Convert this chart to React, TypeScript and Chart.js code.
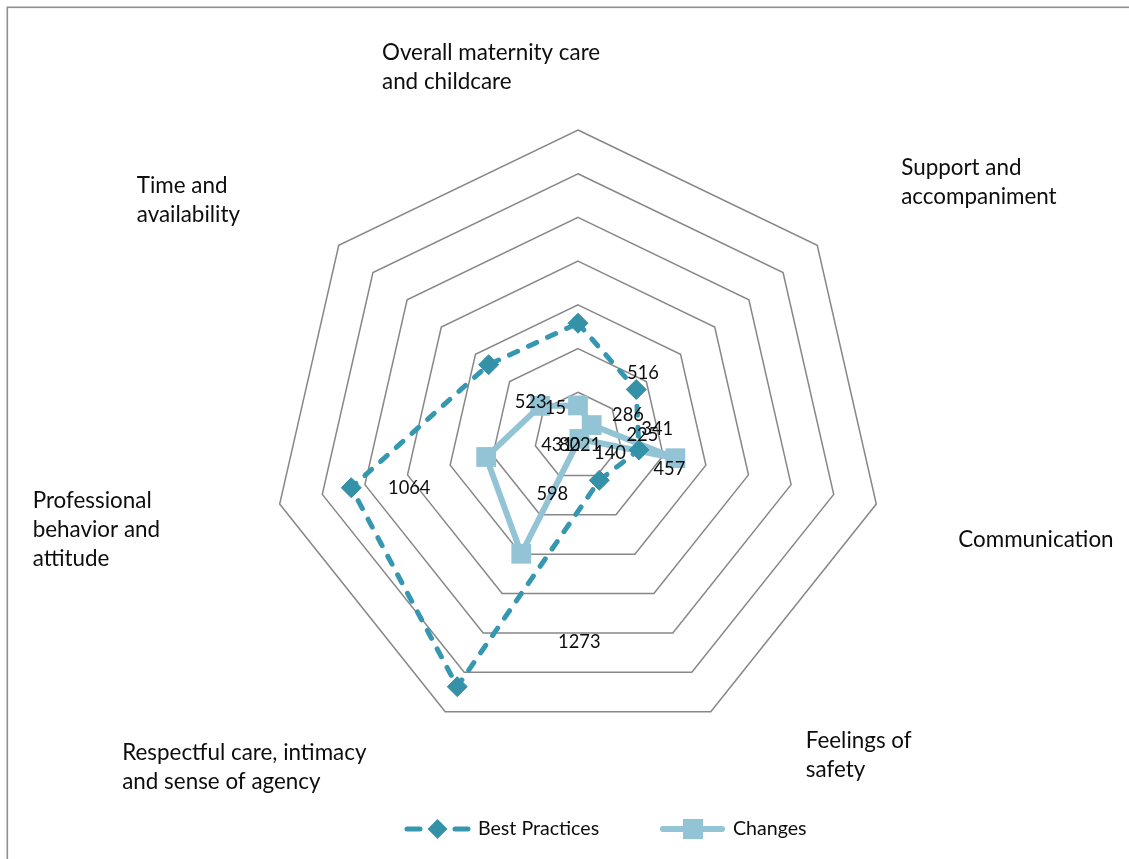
import React, { useEffect, useRef } from "react";
import { Chart, registerables } from "chart.js";

Chart.register(...registerables);

// Survey categories (multi-line labels around the radar)
const categories: string[][] = [
  ["Overall maternity care", "and childcare"],
  ["Support and", "accompaniment"],
  ["Communication"],
  ["Feelings of", "safety"],
  ["Respectful care, intimacy", "and sense of agency"],
  ["Professional", "behavior and", "attitude"],
  ["Time and", "availability"],
];

const seriesNames = ["Best Practices", "Changes"];
const bestPractices = [516, 341, 286, 225, 1273, 1064, 523];
const changes = [140, 80, 457, 15, 598, 431, 221];

const scaleMax = 1400;
const scaleStep = 200;

// Styling
const FONT = "Lato, 'Open Sans', sans-serif";
const TEXT_COLOR = "#0d0d0d";
const BEST_LINE = "#3697B0";
const BEST_MARK = "#3591A8";
const CHANGE_COLOR = "#93C4D6";
const GRID_COLOR = "#878787";

// Category label placement: offset of the text block (left edge, first line middle)
// from the outer polygon vertex of each axis.
const categoryOffsets: [number, number][] = [
  [-196, -77],
  [84, -77],
  [82, 36],
  [95, 29],
  [-323, 41],
  [-247, -3],
  [-202, -59],
];
const categoryLineHeight = 29;

// Value label offsets (label centre relative to its point)
const bestLabelOffsets: [number, number][] = [
  [65, 50], [21, 40], [-11, -35], [43, -45], [122, -45], [58, 0], [42, 37],
];
const changeLabelOffsets: [number, number][] = [
  [32, 48], [-22, 20], [-6, 11], [-24, -31], [31, -60], [71, -12], [45, 39],
];

const decorPlugin = {
  id: "decor",
  beforeDraw(chart: any) {
    const ctx = chart.ctx;
    ctx.save();
    ctx.fillStyle = "#ffffff";
    ctx.fillRect(0, 0, chart.width, chart.height);
    ctx.strokeStyle = "#8f8f8f";
    ctx.lineWidth = 1.6;
    ctx.strokeRect(7.3, 7.3, chart.width + 20, chart.height + 20);
    ctx.restore();
  },
  afterDatasetsDraw(chart: any) {
    const ctx = chart.ctx;
    const scale = chart.scales.r;
    ctx.save();

    // category labels
    ctx.fillStyle = TEXT_COLOR;
    ctx.font = `22.4px ${FONT}`;
    ctx.textAlign = "left";
    ctx.textBaseline = "middle";
    categories.forEach((lines, i) => {
      const p = scale.getPointPosition(i, scale.drawingArea);
      const [dx, dy] = categoryOffsets[i];
      lines.forEach((line, j) => {
        ctx.fillText(line, p.x + dx, p.y + dy + j * categoryLineHeight);
      });
    });

    // value labels
    ctx.font = `18.3px ${FONT}`;
    ctx.textAlign = "center";
    const offsets = [bestLabelOffsets, changeLabelOffsets];
    chart.data.datasets.forEach((ds: any, di: number) => {
      const meta = chart.getDatasetMeta(di);
      meta.data.forEach((pt: any, i: number) => {
        const [dx, dy] = offsets[di][i];
        ctx.fillText(String(ds.data[i]), pt.x + dx, pt.y + dy);
      });
    });

    // legend
    const ly = 829;
    ctx.lineCap = "round";
    ctx.strokeStyle = BEST_LINE;
    ctx.lineWidth = 5;
    ctx.beginPath();
    ctx.moveTo(407, ly);
    ctx.lineTo(420, ly);
    ctx.moveTo(455, ly);
    ctx.lineTo(468, ly);
    ctx.stroke();
    ctx.fillStyle = BEST_MARK;
    ctx.beginPath();
    ctx.moveTo(437.5, ly - 10);
    ctx.lineTo(447.5, ly);
    ctx.lineTo(437.5, ly + 10);
    ctx.lineTo(427.5, ly);
    ctx.closePath();
    ctx.fill();

    ctx.strokeStyle = CHANGE_COLOR;
    ctx.lineWidth = 6;
    ctx.beginPath();
    ctx.moveTo(663, ly);
    ctx.lineTo(722, ly);
    ctx.stroke();
    ctx.fillStyle = CHANGE_COLOR;
    ctx.fillRect(683, ly - 10, 20, 20);

    ctx.fillStyle = TEXT_COLOR;
    ctx.font = `19.6px ${FONT}`;
    ctx.textAlign = "left";
    ctx.fillText(seriesNames[0], 478, ly);
    ctx.fillText(seriesNames[1], 733, ly);
    ctx.restore();
  },
};

export default function App() {
  const canvasRef = useRef<HTMLCanvasElement | null>(null);

  useEffect(() => {
    if (!canvasRef.current) return;
    const chart = new Chart(canvasRef.current, {
      type: "radar",
      data: {
        labels: categories,
        datasets: [
          {
            label: seriesNames[0],
            data: bestPractices,
            borderColor: BEST_LINE,
            borderWidth: 5,
            borderDash: [9, 12],
            borderCapStyle: "round",
            fill: false,
            pointStyle: "rectRot",
            pointRadius: 10,
            pointBackgroundColor: BEST_MARK,
            pointBorderColor: BEST_MARK,
            pointBorderWidth: 1,
          },
          {
            label: seriesNames[1],
            data: changes,
            borderColor: CHANGE_COLOR,
            borderWidth: 6,
            fill: false,
            pointStyle: "rect",
            pointRadius: 14,
            pointBackgroundColor: CHANGE_COLOR,
            pointBorderColor: CHANGE_COLOR,
            pointBorderWidth: 0,
          },
        ],
      },
      options: {
        responsive: false,
        animation: false,
        devicePixelRatio: 1,
        layout: { padding: { left: 272, right: 245, top: 130, bottom: 117 } },
        elements: { line: { tension: 0 } },
        plugins: {
          legend: { display: false },
          tooltip: { enabled: false },
        },
        scales: {
          r: {
            min: 0,
            max: scaleMax,
            ticks: { stepSize: scaleStep, display: false },
            grid: { color: GRID_COLOR, lineWidth: 1.5 },
            angleLines: { display: false },
            pointLabels: { display: false },
          },
        },
      },
      plugins: [decorPlugin],
    } as any);
    return () => chart.destroy();
  }, []);

  return (
    <div
      style={{
        position: "fixed",
        left: 0,
        top: 0,
        width: 1129,
        height: 859,
        background: "#ffffff",
      }}
    >
      <canvas ref={canvasRef} width={1129} height={859} style={{ width: 1129, height: 859 }} />
    </div>
  );
}
